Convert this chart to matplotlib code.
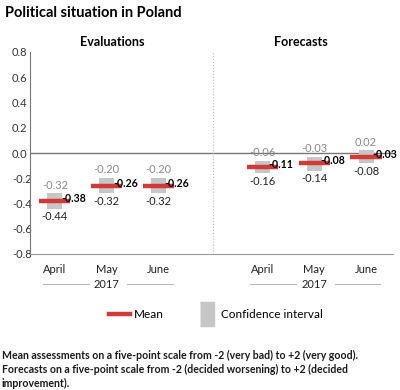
import matplotlib.pyplot as plt
from matplotlib.lines import Line2D

plt.rcParams['font.family'] = ['Lato', 'DejaVu Sans']

# data
months = ['April', 'May', 'June']
year = '2017'
eval_mean = [-0.38, -0.26, -0.26]
eval_low = [-0.44, -0.32, -0.32]
eval_high = [-0.32, -0.20, -0.20]
fc_mean = [-0.11, -0.08, -0.03]
fc_low = [-0.16, -0.14, -0.08]
fc_high = [-0.06, -0.03, 0.02]

red = '#d23a3a'
box = '#c6c6c6'

fig = plt.figure(figsize=(4, 3.9), dpi=100)
ax = fig.add_axes([0.075, 1 - 254 / 390, 0.9075, 202 / 390])

groups = [([0, 1, 2], eval_mean, eval_low, eval_high),
          ([4, 5, 6], fc_mean, fc_low, fc_high)]

for xs, mean, low, high in groups:
    for x, m, lo, hi in zip(xs, mean, low, high):
        ax.bar(x, hi - lo, bottom=lo, width=0.29, color=box, zorder=2)
        ax.hlines(m, x - 0.3, x + 0.3, color=red, lw=3.2, zorder=3)
        ax.annotate(f'{hi:.2f}', (x, hi), xytext=(0, 2), textcoords='offset points',
                    ha='center', va='bottom', fontsize=8, color='#888888')
        ax.annotate(f'{lo:.2f}', (x, lo), xytext=(0, -2), textcoords='offset points',
                    ha='center', va='top', fontsize=8, color='#222222')
        ax.annotate(f'{m:.2f}', (x + 0.12, m), xytext=(0, 2), textcoords='offset points',
                    ha='left', va='center', fontsize=7.6, fontweight='bold', color='black', zorder=4)

ax.set_xlim(-0.48, 6.52)
ax.set_ylim(-0.8, 0.8)
ax.set_yticks([0.8, 0.6, 0.4, 0.2, 0.0, -0.2, -0.4, -0.6, -0.8])
ax.set_yticklabels([f'{v:.1f}' for v in ax.get_yticks()], fontsize=8, color='#333333')
ax.set_xticks([0, 1, 2, 4, 5, 6])
ax.set_xticklabels(months + months, fontsize=8, color='#222222')
ax.tick_params(length=0, pad=7)
ax.tick_params(axis='y', pad=13)
for lab in ax.get_yticklabels():
    lab.set_horizontalalignment('left')

ax.axhline(0, color='#777777', lw=1, zorder=1)
ax.axvline(3.05, color='#bbbbbb', lw=0.8, ls=':', zorder=1)
for s in ['top', 'right']:
    ax.spines[s].set_visible(False)
ax.spines['left'].set_color('#777777')
ax.spines['bottom'].set_color('#999999')

# year labels with side rules
trans = ax.get_xaxis_transform()
for c in [1, 5]:
    ax.text(c, -0.15, year, transform=trans, ha='center', va='center', fontsize=8, color='#222222')
    ax.plot([c - 1.23, c - 0.35], [-0.15, -0.15], transform=trans, color='#bbbbbb', lw=0.8, clip_on=False)
    ax.plot([c + 0.4, c + 1.27], [-0.15, -0.15], transform=trans, color='#bbbbbb', lw=0.8, clip_on=False)

ax.text(1.1, 1.05, 'Evaluations', transform=trans, ha='center', va='center', fontsize=9, fontweight='bold')
ax.text(4.75, 1.05, 'Forecasts', transform=trans, ha='center', va='center', fontsize=9, fontweight='bold')

fig.text(0.0125, 1 - 13 / 390, 'Political situation in Poland', ha='left', va='center',
         fontsize=10.5, fontweight='bold')

handles = [Line2D([], [], color=red, lw=3.2),
           Line2D([], [], ls='none', marker=[(-0.3, -0.5), (0.3, -0.5), (0.3, 0.5), (-0.3, 0.5)],
                  markersize=17, color=box)]
fig.legend(handles, ['Mean', 'Confidence interval'], loc='center', bbox_to_anchor=(0.54, 1 - 315 / 390),
           ncol=2, frameon=False, fontsize=8.5, handlelength=1.8, columnspacing=2.8, handletextpad=0.3)

fig.text(0.005, 1 - 350 / 390,
         'Mean assessments on a five-point scale from -2 (very bad) to +2 (very good).\n'
         'Forecasts on a five-point scale from -2 (decided worsening) to +2 (decided\n'
         'improvement).', ha='left', va='top', fontsize=7.6, fontweight='bold', color='#1a1a1a',
         linespacing=1.35)

fig.savefig('out.png', dpi=100)
